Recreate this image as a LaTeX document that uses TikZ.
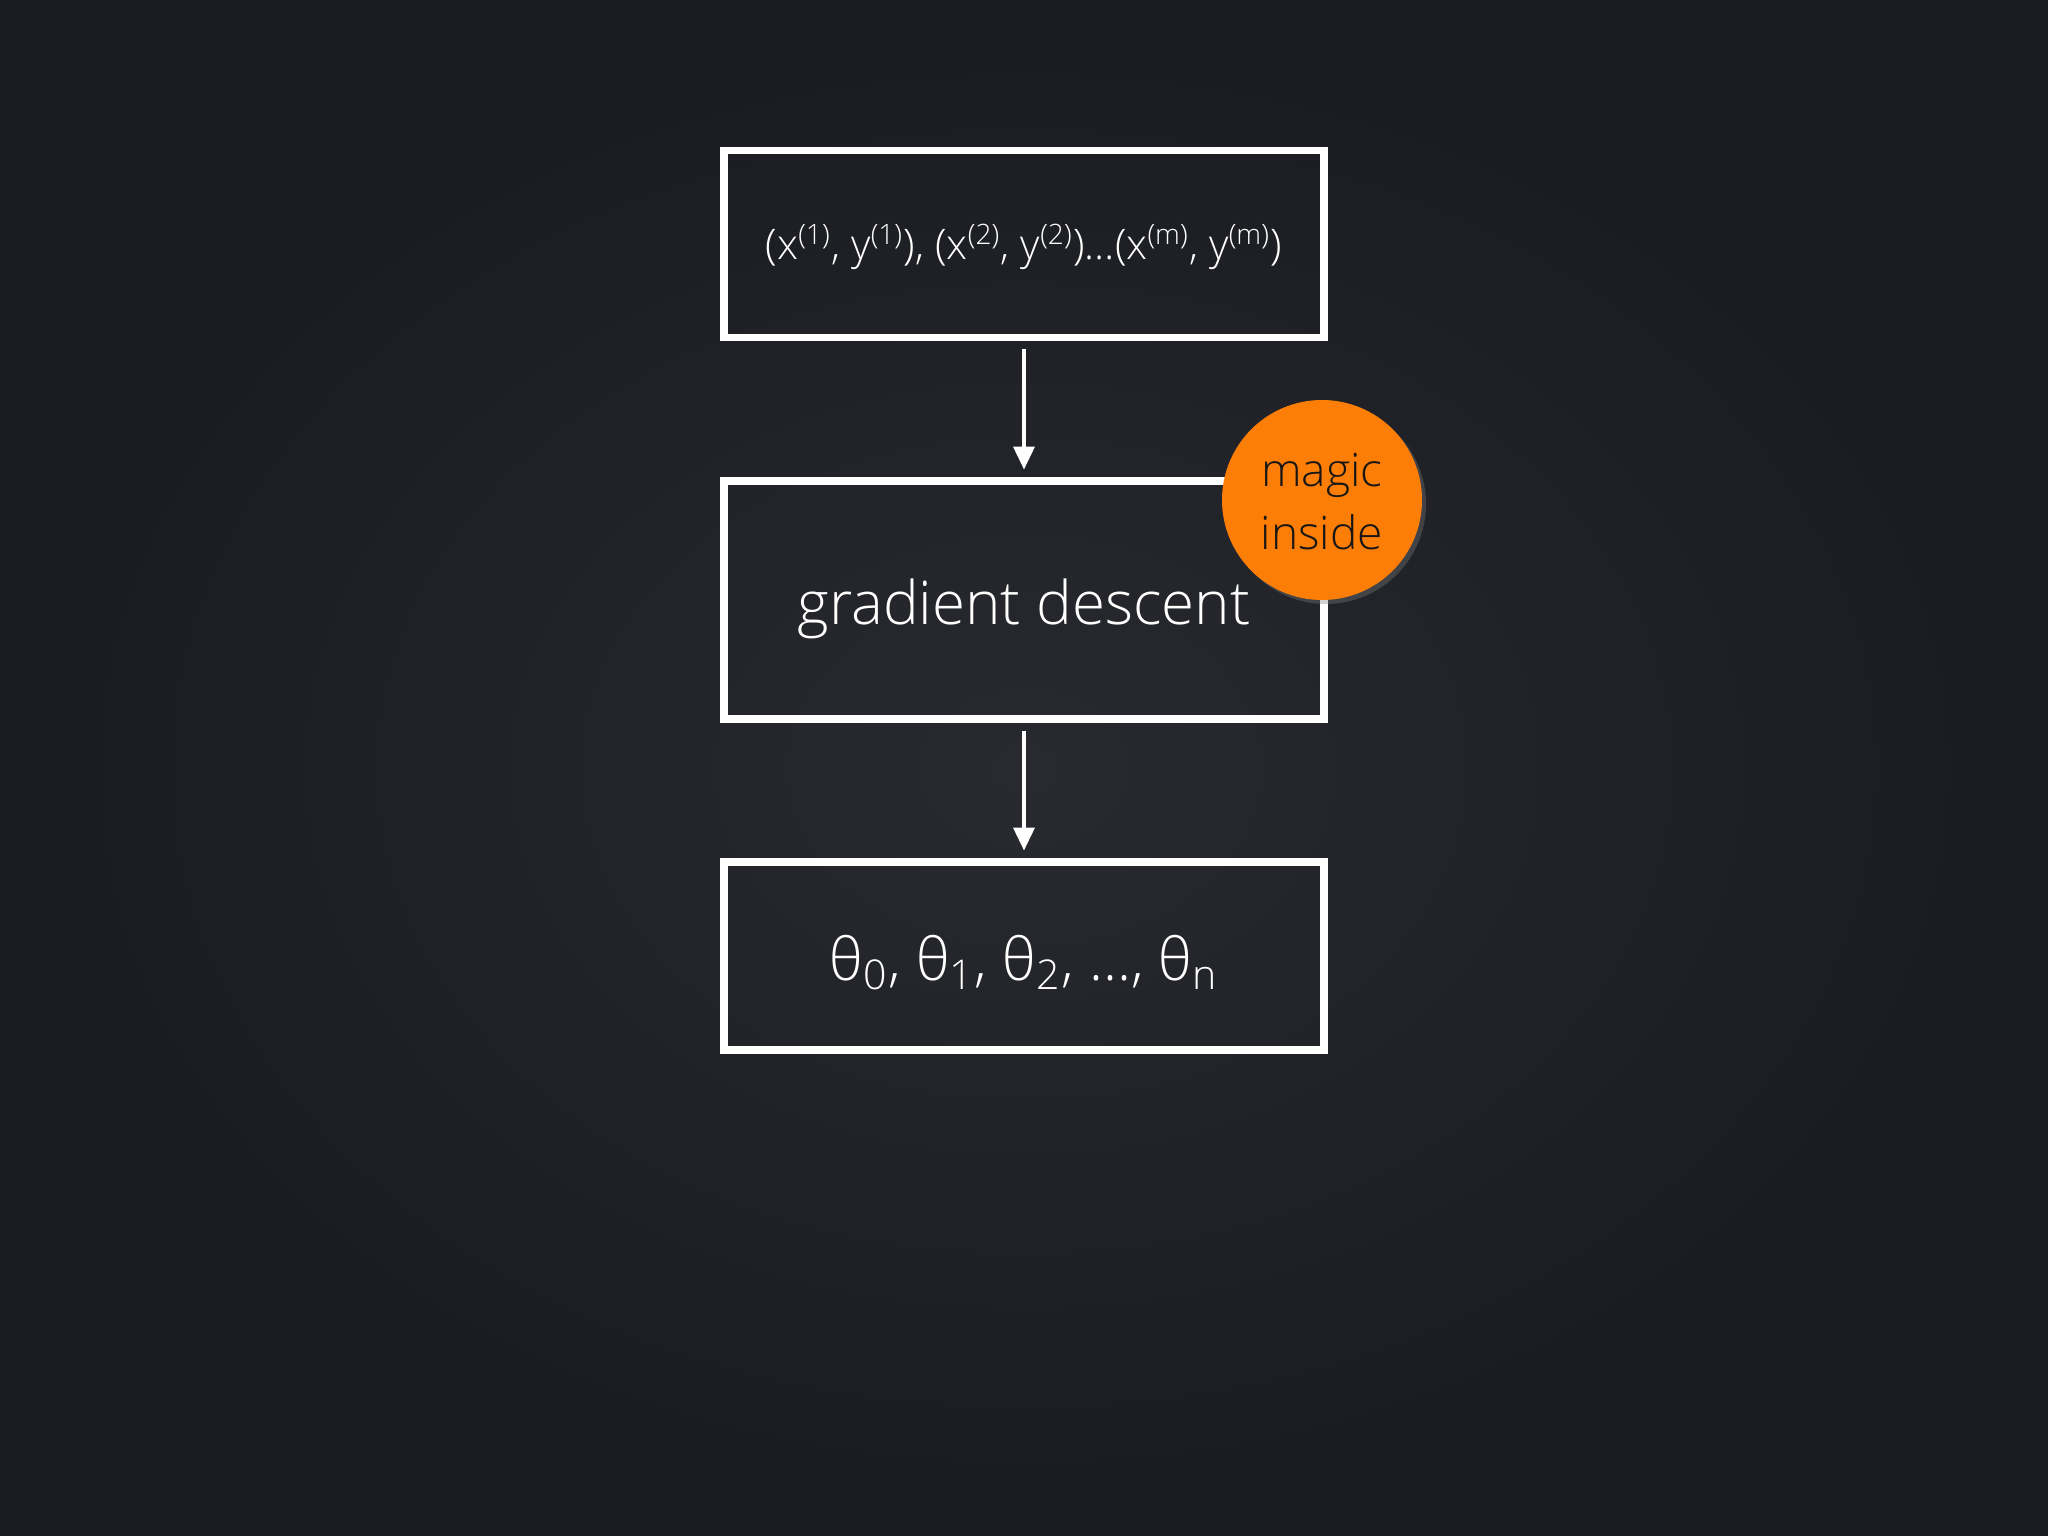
\documentclass[tikz,border=0pt]{standalone}
\usepackage{fontspec}
\setmainfont{Open Sans}[UprightFont={* Light}]
\usepackage{tikz}
\usetikzlibrary{arrows.meta,shapes,shadows}
\definecolor{bgmid}{RGB}{40,42,48}
\definecolor{bgedge}{RGB}{26,27,32}
\definecolor{magicorange}{RGB}{252,126,6}
\definecolor{magictext}{RGB}{24,22,20}
\newcommand{\lowered}[2]{\raisebox{-#1}[\height][\depth]{#2}}
\tikzset{
    stagebox/.style={rectangle, draw=white, line width=2pt, text=white,
      minimum width=6.0cm, align=center},
    flow/.style={-{Triangle[width=6pt,length=6.5pt]}, draw=white, line width=0.9pt,
      shorten <=0.08cm, shorten >=0.08cm},
}
\begin{document}
\begin{tikzpicture}
 \fill[inner color=bgmid, outer color=bgedge] (0,0) rectangle (20.48,-15.36);
 \useasboundingbox (0,0) rectangle (20.48,-15.36);
 \node[stagebox, minimum height=1.87cm, font=\fontsize{12}{14}\selectfont] (data) at (10.24,-2.44)
    {\lowered{0.3mm}{(x\textsuperscript{(1)}, y\textsuperscript{(1)}), (x\textsuperscript{(2)}, y\textsuperscript{(2)})…(x\textsuperscript{(m)}, y\textsuperscript{(m)})}};
 \node[stagebox, minimum height=2.38cm, font=\fontsize{17.1}{20}\selectfont] (gd) at (10.24,-6.00)
    {\lowered{0.9mm}{gradient descent}};
 \node[stagebox, minimum height=1.88cm, font=\fontsize{16.7}{20}\selectfont] (theta) at (10.24,-9.56)
    {\lowered{0.65mm}{θ\textsubscript{0}, θ\textsubscript{1}, θ\textsubscript{2}, …, θ\textsubscript{n}}};
 \node[circle, fill=magicorange, minimum size=2.0cm, inner sep=0pt, text=magictext,
    align=center, font=\fontsize{13.1}{18.6}\selectfont,
    drop shadow={opacity=0.35, shadow xshift=0.04cm, shadow yshift=-0.04cm}] (magic) at (13.22,-5.00)
    {\lowered{0.3mm}{magic}\\inside};
\draw[flow] (data) -- (gd);
\draw[flow] (gd) -- (theta);
\end{tikzpicture}
\end{document}
